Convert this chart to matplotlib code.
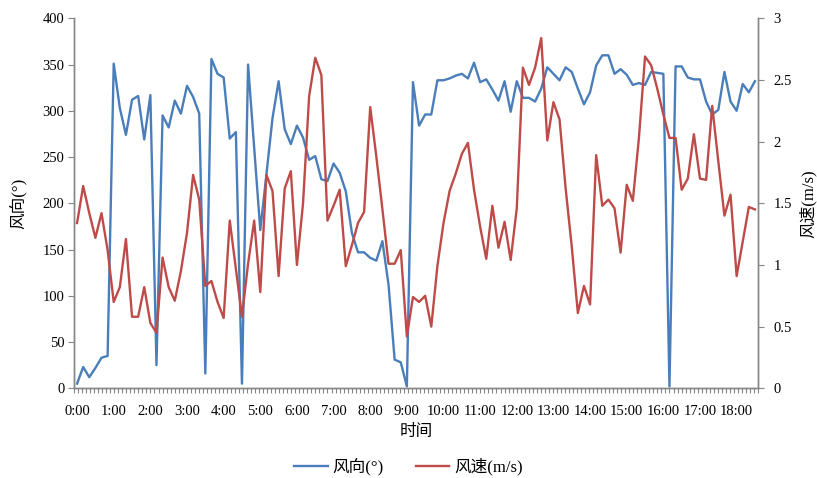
import numpy as np
import matplotlib
matplotlib.use('Agg')
import matplotlib.pyplot as plt
from matplotlib.ticker import FixedLocator, MultipleLocator

# ── Data (10-minute readings, 0:00 - 18:30) ────────────────────────────
WIND_DIR = [
    5, 23, 12, 22, 33, 35, 351, 303, 274, 312, 316, 269, 317, 25, 295, 282,
    311, 297, 327, 315, 297, 16, 356, 340, 336, 270, 277, 5, 350, 260, 171, 231,
    292, 332, 280, 264, 284, 271, 247, 251, 226, 224, 243, 233, 213, 168, 147, 147,
    141, 138, 159, 112, 31, 28, 2, 331, 284, 296, 296, 333, 333, 335, 338, 340,
    335, 352, 331, 334, 323, 311, 332, 299, 332, 314, 314, 310, 324, 347, 340, 333,
    347, 342, 324, 307, 320, 349, 360, 360, 340, 345, 339, 328, 330, 328, 342, 341,
    340, 2, 348, 348, 336, 334, 334, 310, 296, 301, 342, 310, 300, 329, 320, 332,
]
WIND_SPD = [
    1.34, 1.64, 1.42, 1.22, 1.42, 1.12, 0.70, 0.82, 1.21, 0.58, 0.58, 0.82, 0.53, 0.45, 1.06, 0.82,
    0.71, 0.95, 1.26, 1.73, 1.53, 0.83, 0.87, 0.70, 0.57, 1.36, 0.97, 0.58, 1.01, 1.36, 0.78, 1.73,
    1.60, 0.91, 1.62, 1.76, 1.00, 1.50, 2.37, 2.68, 2.54, 1.36, 1.48, 1.61, 0.99, 1.16, 1.34, 1.43,
    2.28, 1.88, 1.45, 1.01, 1.01, 1.12, 0.42, 0.74, 0.70, 0.75, 0.50, 0.99, 1.34, 1.60, 1.74, 1.90,
    1.99, 1.61, 1.31, 1.05, 1.48, 1.14, 1.35, 1.04, 1.46, 2.60, 2.46, 2.60, 2.84, 2.01, 2.32, 2.18,
    1.62, 1.15, 0.61, 0.83, 0.68, 1.89, 1.48, 1.53, 1.46, 1.10, 1.65, 1.52, 2.03, 2.69, 2.62, 2.43,
    2.22, 2.03, 2.03, 1.61, 1.70, 2.06, 1.70, 1.69, 2.29, 1.84, 1.40, 1.57, 0.91, 1.19, 1.47, 1.45,
]
STEP_H = 10 / 60
HOUR_TICKS = list(range(0, 19))
HOUR_LABELS = [f'{h}:00' for h in HOUR_TICKS]
SPD_TICKS = [0, 0.5, 1, 1.5, 2, 2.5, 3]
SPD_LABELS = ['0', '0.5', '1', '1.5', '2', '2.5', '3']

# ── Style ──────────────────────────────────────────────────────────────
FONTS = ['Liberation Serif', 'Noto Sans CJK SC']
plt.rcParams['font.family'] = FONTS
BLUE = '#4A7EBB'
RED = '#BE4B48'
AXIS_GRAY = '#868686'

t = np.arange(len(WIND_DIR)) * STEP_H

fig = plt.figure(figsize=(8.17, 4.78), dpi=100)
ax = fig.add_axes([0.0906, 0.1877, 0.8372, 0.774])
ax2 = ax.twinx()

ax.plot(t, WIND_DIR, color=BLUE, lw=1.7, label='风向(°)', zorder=3)
ax2.plot(t, WIND_SPD, color=RED, lw=1.7, label='风速(m/s)', zorder=3)

x0, x1 = -STEP_H / 2, t[-1] + STEP_H / 2
ax.set_xlim(x0, x1)
ax.set_ylim(0, 400)
ax2.set_ylim(0, 3)

ax.yaxis.set_major_locator(MultipleLocator(50))
ax2.set_yticks(SPD_TICKS)
ax2.set_yticklabels(SPD_LABELS)

ax.set_xticks(HOUR_TICKS)
ax.set_xticklabels(HOUR_LABELS)
ax.xaxis.set_minor_locator(FixedLocator(np.linspace(x0, x1, 171)))

for a in (ax, ax2):
    for s in a.spines.values():
        s.set_color(AXIS_GRAY)
        s.set_linewidth(1.0)
    a.spines['top'].set_visible(False)

ax.tick_params(axis='x', which='major', length=0, pad=12, labelsize=10.5)
ax.tick_params(axis='x', which='minor', length=3.5, color=AXIS_GRAY, width=0.8)
ax.tick_params(axis='y', length=4, color=AXIS_GRAY, width=0.8, pad=3, labelsize=10.5)
ax2.tick_params(axis='y', length=4, color=AXIS_GRAY, width=0.8, pad=7, labelsize=10.5)

# axis titles
ax.set_xlabel('时间', fontsize=12, va='center')
ax.xaxis.set_label_coords(0.5, -0.118)
ax.set_ylabel('风向(°)', fontsize=12, va='center')
ax.yaxis.set_label_coords(-0.082, 0.5)
ax2.set_ylabel('风速(m/s)', fontsize=12, rotation=90, va='center')
ax2.yaxis.set_label_coords(1.073, 0.5)

h1, l1 = ax.get_legend_handles_labels()
h2, l2 = ax2.get_legend_handles_labels()
fig.legend(h1 + h2, l1 + l2, loc='center', bbox_to_anchor=(0.5, 0.023),
           ncol=2, frameon=False, fontsize=12, handlelength=2.0,
           handletextpad=0.3, columnspacing=1.9)

fig.savefig('out.png', dpi=100, facecolor='white')
